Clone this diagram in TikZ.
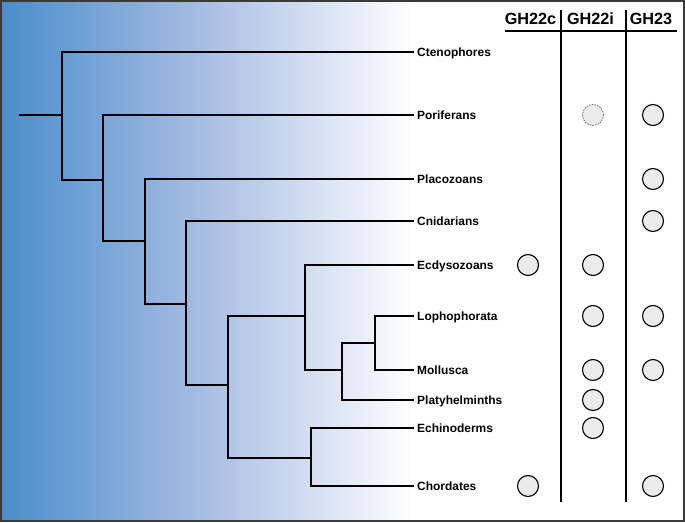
\documentclass[tikz,border=0pt]{standalone}
\usepackage{fontspec}
\setmainfont{Liberation Sans}
\definecolor{bgA}{HTML}{4A8ECB}
\definecolor{bgB}{HTML}{A6BCE3}
\definecolor{frame}{HTML}{3A3A3A}
\definecolor{dotfill}{HTML}{EBEBEB}
\begin{document}
\begin{tikzpicture}[x=1bp,y=-1bp,
  branch/.style={line width=2.2bp, black, line join=miter},
  taxon/.style={anchor=west, inner sep=0pt, text height=8.6bp, text depth=0pt, font=\fontsize{12}{14}\selectfont\bfseries},
  hdr/.style={inner sep=0pt, font=\fontsize{16.3}{18}\selectfont\bfseries},
  rule/.style={line width=1.3bp, black},
  dot/.style={circle, draw=black, line width=1.1bp, fill=dotfill, minimum size=21bp, inner sep=0pt},
  dashdot/.style={circle, draw=black!60, dashed, dash pattern=on 1.5bp off 1.2bp, line width=0.8bp, fill=dotfill, minimum size=21bp, inner sep=0pt}]
\useasboundingbox (0,0) rectangle (685,523);
% background
\shade[left color=bgA, right color=bgB] (1,1) rectangle (200,521);
\shade[left color=bgB, right color=white] (199.5,1) rectangle (415,521);
\fill[white] (415,1) rectangle (684,521);
\draw[frame, line width=2bp] (1,1) rectangle (684,521);

% taxa labels
\node[taxon] (cten) at (417,52) {Ctenophores};
\node[taxon] (pori) at (417,115) {Poriferans};
\node[taxon] (plac) at (417,179) {Placozoans};
\node[taxon] (cnid) at (417,221) {Cnidarians};
\node[taxon] (ecdy) at (417,265) {Ecdysozoans};
\node[taxon] (loph) at (417,316) {Lophophorata};
\node[taxon] (moll) at (417,370) {Mollusca};
\node[taxon] (plat) at (417,400) {Platyhelminths};
\node[taxon] (echi) at (417,428) {Echinoderms};
\node[taxon] (chor) at (417,486) {Chordates};

% internal nodes
\coordinate (root) at (19,115);
\coordinate (A) at (62,115);
\coordinate (B) at (103,180);
\coordinate (C) at (145,241);
\coordinate (D) at (186,304);
\coordinate (E) at (228,385);
\coordinate (F) at (305,316);
\coordinate (G) at (342,370);
\coordinate (H) at (375,343);
\coordinate (I) at (311,458);

\draw[branch] (root) -- (A);
\draw[branch] (A) |- ([xshift=-3bp]cten.west);
\draw[branch] (A) |- (B);
\draw[branch] (B) |- ([xshift=-3bp]pori.west);
\draw[branch] (B) |- (C);
\draw[branch] (C) |- ([xshift=-3bp]plac.west);
\draw[branch] (C) |- (D);
\draw[branch] (D) |- ([xshift=-3bp]cnid.west);
\draw[branch] (D) |- (E);
\draw[branch] (E) |- (F);
\draw[branch] (E) |- (I);
\draw[branch] (F) |- ([xshift=-3bp]ecdy.west);
\draw[branch] (F) |- (G);
\draw[branch] (G) |- (H);
\draw[branch] (G) |- ([xshift=-3bp]plat.west);
\draw[branch] (H) |- ([xshift=-3bp]loph.west);
\draw[branch] (H) |- ([xshift=-3bp]moll.west);
\draw[branch] (I) |- ([xshift=-3bp]echi.west);
\draw[branch] (I) |- ([xshift=-3bp]chor.west);

% header
\node[hdr] (h1) at (530.5,18.5) {GH22c};
\node[hdr] (h2) at (590.5,18.5) {GH22i};
\node[hdr] (h3) at (651,18.5) {GH23};
\coordinate (ulL) at (505,31);
\coordinate (ulR) at (677,31);
\draw[rule] (ulL) -- (ulR);
\coordinate (v1t) at (561,10);
\coordinate (v1b) at (561,502);
\coordinate (v2t) at (626,10);
\coordinate (v2b) at (626,502);
\draw[rule] (v1t) -- (v1b);
\draw[rule] (v2t) -- (v2b);

% presence dots
\node[dashdot] (p2) at (593,115) {};
\node[dot] (p3) at (653,115) {};
\node[dot] (pl3) at (653,179) {};
\node[dot] (cn3) at (653,221) {};
\node[dot] (ec1) at (528,265) {};
\node[dot] (ec2) at (593,265) {};
\node[dot] (lo2) at (593,316) {};
\node[dot] (lo3) at (653,316) {};
\node[dot] (mo2) at (593,370) {};
\node[dot] (mo3) at (653,370) {};
\node[dot] (pt2) at (593,400) {};
\node[dot] (eh2) at (593,428) {};
\node[dot] (ch1) at (528,486) {};
\node[dot] (ch3) at (653,486) {};
\end{tikzpicture}
\end{document}
